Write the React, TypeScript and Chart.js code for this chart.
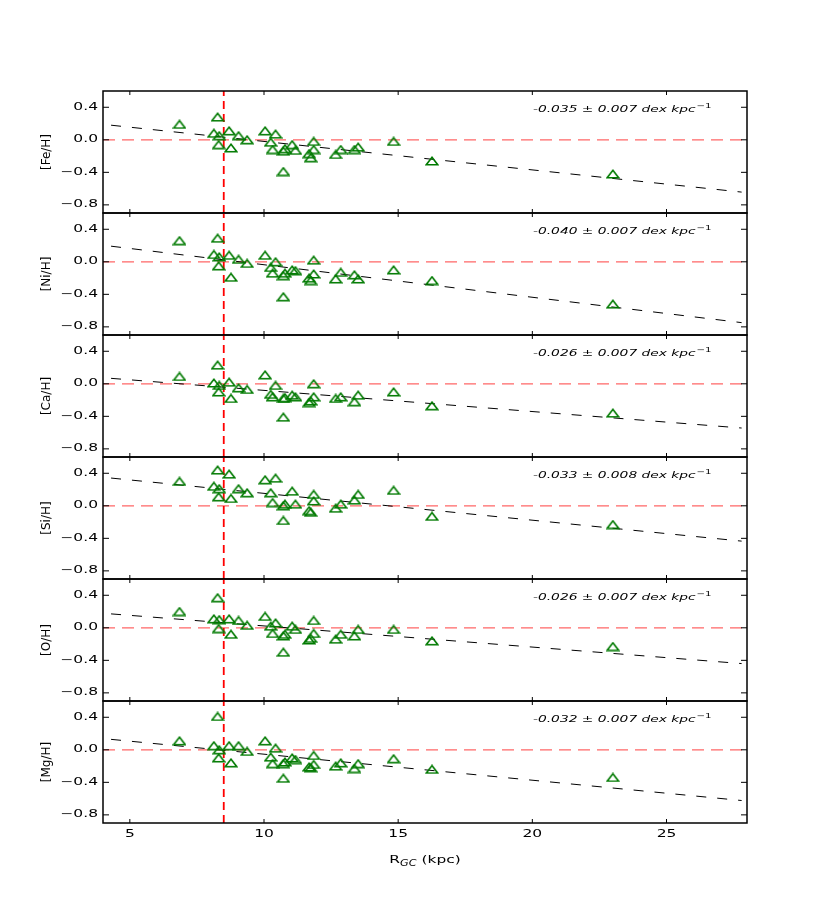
import React, { useEffect, useRef } from "react";
import { Chart, registerables } from "chart.js";

Chart.register(...registerables);

// Galactocentric radius of each star (kpc), same stars in every panel
const radius = [
  6.85, 8.27, 8.13, 8.33, 8.31, 8.7, 8.77, 9.05, 9.37, 10.04, 10.43, 10.25, 10.32, 10.72, 10.72,
  10.78, 11.05, 11.17, 11.85, 11.85, 11.68, 11.74, 12.67, 12.86, 13.37, 13.51, 14.83, 16.26, 23.0,
];

const feH = [
  0.19, 0.28, 0.08, 0.05, -0.06, 0.11, -0.1, 0.05, 0.0, 0.11, 0.07, -0.03, -0.12, -0.39, -0.14,
  -0.11, -0.06, -0.13, -0.02, -0.12, -0.17, -0.22, -0.18, -0.12, -0.12, -0.09, -0.02, -0.26, -0.42,
];
const niH = [
  0.26, 0.29, 0.09, 0.06, -0.05, 0.08, -0.19, 0.03, -0.02, 0.08, 0.0, -0.07, -0.14, -0.43, -0.17,
  -0.14, -0.1, -0.11, 0.02, -0.15, -0.2, -0.23, -0.21, -0.13, -0.16, -0.21, -0.1, -0.23, -0.52,
];
const caH = [
  0.09, 0.23, 0.01, -0.02, -0.1, 0.02, -0.18, -0.05, -0.07, 0.11, -0.02, -0.13, -0.16, -0.41, -0.18,
  -0.17, -0.14, -0.16, 0.0, -0.16, -0.23, -0.21, -0.18, -0.16, -0.22, -0.14, -0.1, -0.27, -0.36,
];
const siH = [
  0.3, 0.44, 0.24, 0.21, 0.11, 0.39, 0.09, 0.21, 0.16, 0.32, 0.34, 0.16, 0.04, -0.18, 0.0,
  0.02, 0.18, 0.02, 0.14, 0.06, -0.06, -0.08, -0.03, 0.02, 0.07, 0.14, 0.19, -0.13, -0.23,
];
const oH = [
  0.2, 0.37, 0.11, 0.1, -0.01, 0.11, -0.08, 0.09, 0.03, 0.14, 0.06, 0.02, -0.07, -0.3, -0.1,
  -0.08, 0.02, -0.02, 0.09, -0.07, -0.15, -0.13, -0.14, -0.08, -0.1, -0.02, -0.02, -0.16, -0.23,
];
const mgH = [
  0.11, 0.41, 0.05, 0.0, -0.1, 0.05, -0.16, 0.05, -0.02, 0.11, 0.02, -0.09, -0.17, -0.35, -0.17,
  -0.15, -0.1, -0.12, -0.07, -0.18, -0.21, -0.22, -0.2, -0.16, -0.23, -0.17, -0.11, -0.24, -0.34,
];

const panelLabels = ["[Fe/H]", "[Ni/H]", "[Ca/H]", "[Si/H]", "[O/H]", "[Mg/H]"];
const panelValues = [feH, niH, caH, siH, oH, mgH];

// linear fits: [X/H] = intercept + gradient * R
const gradients = [-0.035, -0.04, -0.026, -0.033, -0.026, -0.032];
const gradientErrors = [0.007, 0.007, 0.007, 0.008, 0.007, 0.007];
const intercepts = [0.33, 0.364, 0.179, 0.483, 0.283, 0.266];
const fitRange = [4.3, 27.8];

const xTicks = [5, 10, 15, 20, 25];
const yTicks = [0.4, 0.0, -0.4, -0.8];
const xRange = [4, 28];
const yRange = [-0.9, 0.6];
const solarRadius = 8.5;

// layout (page pixels)
const PLOT_LEFT = 103;
const PLOT_RIGHT = 747;
const PLOT_TOP = 91;
const PANEL_H = 122;
const FONT = "'DejaVu Sans', sans-serif";
const STRETCH = 1.55;

function makeTriangle() {
  const c = document.createElement("canvas");
  c.width = 14;
  c.height = 10;
  const ctx = c.getContext("2d")!;
  ctx.strokeStyle = "#007a00";
  ctx.lineWidth = 1.6;
  ctx.lineJoin = "miter";
  ctx.beginPath();
  ctx.moveTo(7, 1.3);
  ctx.lineTo(12.7, 8.7);
  ctx.lineTo(1.3, 8.7);
  ctx.closePath();
  ctx.stroke();
  return c;
}

// the reference text is wider than it is tall, so draw it with a horizontal stretch
function wideText(
  ctx: CanvasRenderingContext2D,
  text: string,
  x: number,
  y: number,
  align: CanvasTextAlign,
  sx: number
) {
  ctx.save();
  ctx.translate(x, y);
  ctx.scale(sx, 1);
  ctx.textAlign = align;
  ctx.fillText(text, 0, 0);
  ctx.restore();
}

const tickText = (v: number) => (v < 0 ? "\u2212" : "") + Math.abs(v).toFixed(1);

function framePlugin(index: number, last: boolean) {
  return {
    id: "frame",
    afterDraw(chart: Chart) {
      const { ctx, chartArea: a } = chart;
      const xs = chart.scales.x;
      const ys = chart.scales.y;
      ctx.save();

      // inward ticks on all four sides
      ctx.strokeStyle = "#000";
      ctx.lineWidth = 1;
      ctx.beginPath();
      yTicks.forEach((v) => {
        const py = ys.getPixelForValue(v);
        ctx.moveTo(a.left, py);
        ctx.lineTo(a.left + 6, py);
        ctx.moveTo(a.right, py);
        ctx.lineTo(a.right - 6, py);
      });
      xTicks.forEach((v) => {
        const px = xs.getPixelForValue(v);
        ctx.moveTo(px, a.top);
        ctx.lineTo(px, a.top + 4);
        ctx.moveTo(px, a.bottom);
        ctx.lineTo(px, a.bottom - 4);
      });
      ctx.stroke();
      ctx.lineWidth = 1.5;
      ctx.strokeRect(a.left, a.top, a.right - a.left, a.bottom - a.top);

      ctx.fillStyle = "#000";
      ctx.font = `10px ${FONT}`;
      ctx.textBaseline = "middle";
      yTicks.forEach((v) =>
        wideText(ctx, tickText(v), a.left - 5, ys.getPixelForValue(v), "right", STRETCH)
      );

      // gradient annotation
      ctx.textBaseline = "alphabetic";
      const g = gradients[index].toFixed(3);
      const main = `${g} \u00b1 ${gradientErrors[index].toFixed(3)} dex kpc`;
      const ax = 533;
      const ay = a.top + 21;
      ctx.font = `italic 9.5px ${FONT}`;
      wideText(ctx, main, ax, ay, "left", 1.45);
      const w = ctx.measureText(main).width * 1.45;
      ctx.font = `7px ${FONT}`;
      wideText(ctx, "\u22121", ax + w + 1, ay - 4, "left", 1.45);

      if (last) {
        ctx.font = `10px ${FONT}`;
        ctx.textBaseline = "middle";
        xTicks.forEach((v) =>
          wideText(ctx, String(v), xs.getPixelForValue(v), a.bottom + 11, "center", STRETCH)
        );

        // axis title R_GC (kpc)
        ctx.textBaseline = "alphabetic";
        const s = 1.4;
        const big = `11px ${FONT}`;
        const small = `italic 8px ${FONT}`;
        ctx.font = big;
        const wR = ctx.measureText("R").width * s;
        const wTail = ctx.measureText(" (kpc)").width * s;
        ctx.font = small;
        const wSub = ctx.measureText("GC").width * s;
        const cx = (a.left + a.right) / 2;
        let x0 = cx - (wR + wSub + wTail) / 2;
        const by = a.bottom + 40;
        ctx.font = big;
        wideText(ctx, "R", x0, by, "left", s);
        x0 += wR;
        ctx.font = small;
        wideText(ctx, "GC", x0, by + 2.5, "left", s);
        x0 += wSub;
        ctx.font = big;
        wideText(ctx, " (kpc)", x0, by, "left", s);
      }
      ctx.restore();
    },
  };
}

function Panel({ index }: { index: number }) {
  const canvasRef = useRef<HTMLCanvasElement>(null);
  const chartRef = useRef<Chart | null>(null);
  const last = index === panelLabels.length - 1;
  const padTop = 10;
  const padBottom = last ? 80 : 10;

  useEffect(() => {
    if (!canvasRef.current) return;
    if (chartRef.current) chartRef.current.destroy();

    const values = panelValues[index];
    const triangle = makeTriangle();

    chartRef.current = new Chart(canvasRef.current, {
      type: "scatter",
      data: {
        datasets: [
          {
            label: "stars",
            data: radius.map((r, i) => ({ x: r, y: values[i] })),
            pointStyle: triangle as any,
            pointRadius: 6,
            showLine: false,
          },
          {
            label: "gradient fit",
            data: fitRange.map((r) => ({ x: r, y: intercepts[index] + gradients[index] * r })),
            showLine: true,
            borderColor: "#000",
            borderWidth: 1,
            borderDash: [10, 11],
            pointRadius: 0,
          },
          {
            label: "solar",
            data: xRange.map((r) => ({ x: r, y: 0 })),
            showLine: true,
            borderColor: "rgba(255, 0, 0, 0.6)",
            borderWidth: 1.3,
            borderDash: [12, 7],
            pointRadius: 0,
          },
          {
            label: "R0",
            data: yRange.map((v) => ({ x: solarRadius, y: v })),
            showLine: true,
            borderColor: "#ff0000",
            borderWidth: 1.8,
            borderDash: [8, 5],
            pointRadius: 0,
          },
        ],
      },
      options: {
        responsive: true,
        maintainAspectRatio: false,
        animation: false,
        events: [],
        layout: {
          autoPadding: false,
          padding: { left: 0, right: 830 - PLOT_RIGHT, top: padTop, bottom: padBottom },
        },
        plugins: { legend: { display: false }, tooltip: { enabled: false } },
        scales: {
          x: { type: "linear", display: false, min: xRange[0], max: xRange[1] },
          y: {
            type: "linear",
            min: yRange[0],
            max: yRange[1],
            ticks: { display: false },
            grid: { display: false },
            border: { display: false },
            title: {
              display: true,
              text: panelLabels[index],
              color: "#000",
              font: { family: FONT, size: 12 },
              padding: { top: 40, bottom: 0 },
            },
            afterFit: (scale: any) => {
              scale.width = PLOT_LEFT;
            },
          },
        },
      },
      plugins: [framePlugin(index, last)],
    });

    return () => {
      if (chartRef.current) {
        chartRef.current.destroy();
        chartRef.current = null;
      }
    };
  }, [index, last, padBottom]);

  return (
    <div
      style={{
        position: "absolute",
        left: 0,
        top: PLOT_TOP + index * PANEL_H - padTop,
        width: 830,
        height: PANEL_H + padTop + padBottom,
      }}
    >
      <canvas ref={canvasRef} />
    </div>
  );
}

export default function App() {
  return (
    <div style={{ position: "absolute", left: 0, top: 0, width: 830, height: 915 }}>
      {panelLabels.map((_, i) => (
        <Panel key={i} index={i} />
      ))}
    </div>
  );
}
